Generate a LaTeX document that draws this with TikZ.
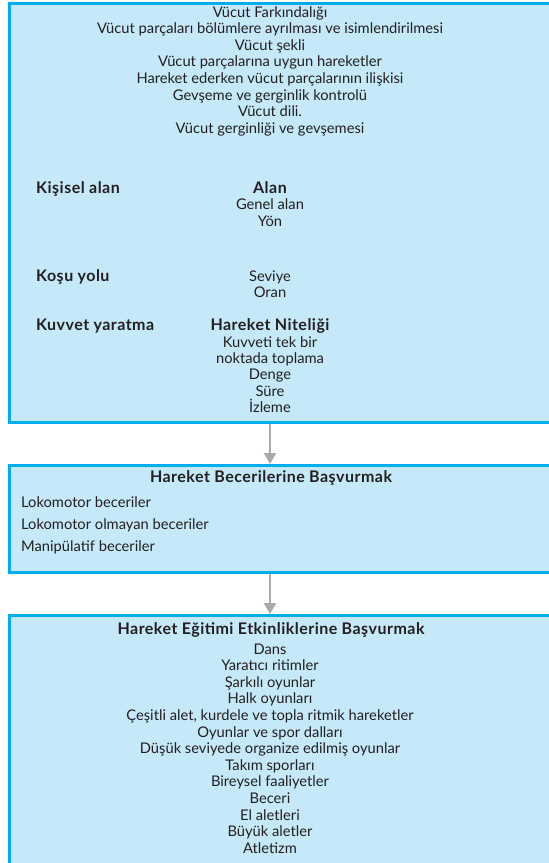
\documentclass[tikz,border=0pt]{standalone}
\usepackage{fontspec}
\setmainfont{Lato}
\newfontfamily\headfont{Lato}[LetterSpace=3.0]
\usetikzlibrary{positioning,arrows.meta}
\definecolor{boxfill}{HTML}{C6E9F9}
\definecolor{boxline}{HTML}{00AEEF}
\definecolor{arrowgray}{HTML}{A7A9AC}
\definecolor{ink}{HTML}{231F20}

\begin{document}
\begin{tikzpicture}[
  x=1pt,y=-1pt,
  box/.style={draw=boxline,fill=boxfill,line width=2.6pt,rectangle,anchor=north west,minimum width=600pt,inner sep=0pt},
  txt/.style={anchor=base,inner sep=0pt,text=ink,font=\fontsize{14.7}{16}\selectfont},
  lefttxt/.style={txt,anchor=base west},
  head/.style={txt,font=\headfont\fontsize{16}{18}\selectfont\bfseries},
  lefthead/.style={head,anchor=base west},
  flow/.style={draw=arrowgray,line width=2.4pt,-{Triangle[length=11pt,width=12pt]}}
]
\clip (0,0) rectangle (549,863);
\useasboundingbox (0,0) rectangle (549,863);
\fill[white] (0,0) rectangle (549,863);

% the three boxes
\node[box,minimum height=419pt] (top) at (8,2) {};
\node[box,minimum height=107pt] (mid) at (8,464) {};
\node[box,minimum height=300pt] (bot) at (8,614) {};

% body awareness
\foreach \t [count=\i] in {Vücut Farkındalığı,Vücut parçaları bölümlere ayrılması ve isimlendirilmesi,
  Vücut şekli,Vücut parçalarına uygun hareketler,Hareket ederken vücut parçalarının ilişkisi,
  Gevşeme ve gerginlik kontrolü,Vücut dili.,Vücut gerginliği ve gevşemesi}
  \node[txt] (body\i) at (270,{17+16.65*(\i-1)}) {\t};

% space
\node[lefthead] (personal) at (36,193) {Kişisel alan};
\node[head] (space) at (270,193) {Alan};
\node[txt] (general) at (270,209.5) {Genel alan};
\node[txt] (direction) at (270,226) {Yön};
\node[lefthead] (path) at (36,281) {Koşu yolu};
\node[txt] (level) at (270,281) {Seviye};
\node[txt] (rate) at (270,297) {Oran};

% quality of movement
\node[lefthead] (force) at (36,330) {Kuvvet yaratma};
\node[head] (quality) at (270,330) {Hareket Niteliği};
\foreach \t [count=\i] in {Kuvveti tek bir,noktada toplama,Denge,Süre,İzleme}
  \node[txt] (qual\i) at (270,{347+16.4*(\i-1)}) {\t};

% skills
\node[head] (skills) at (271,482) {Hareket Becerilerine Başvurmak};
\foreach \t [count=\i] in {Lokomotor beceriler,Lokomotor olmayan beceriler,Manipülatif beceriler}
  \node[lefttxt] (skill\i) at (21,{507+22*(\i-1)}) {\t};

% activities
\node[head] (activities) at (271,634) {Hareket Eğitimi Etkinliklerine Başvurmak};
\foreach \t [count=\i] in {Dans,Yaratıcı ritimler,Şarkılı oyunlar,Halk oyunları,
  {Çeşitli alet, kurdele ve topla ritmik hareketler},Oyunlar ve spor dalları,
  Düşük seviyede organize edilmiş oyunlar,Takım sporları,Bireysel faaliyetler,
  Beceri,El aletleri,Büyük aletler,Atletizm}
  \node[txt] (act\i) at (270,{654+16.6*(\i-1)}) {\t};

% arrows between boxes
\coordinate (axis) at (270,0);
\draw[flow] (top.south -| axis) -- (mid.north -| axis);
\draw[flow] (mid.south -| axis) -- (bot.north -| axis);
\end{tikzpicture}
\end{document}
